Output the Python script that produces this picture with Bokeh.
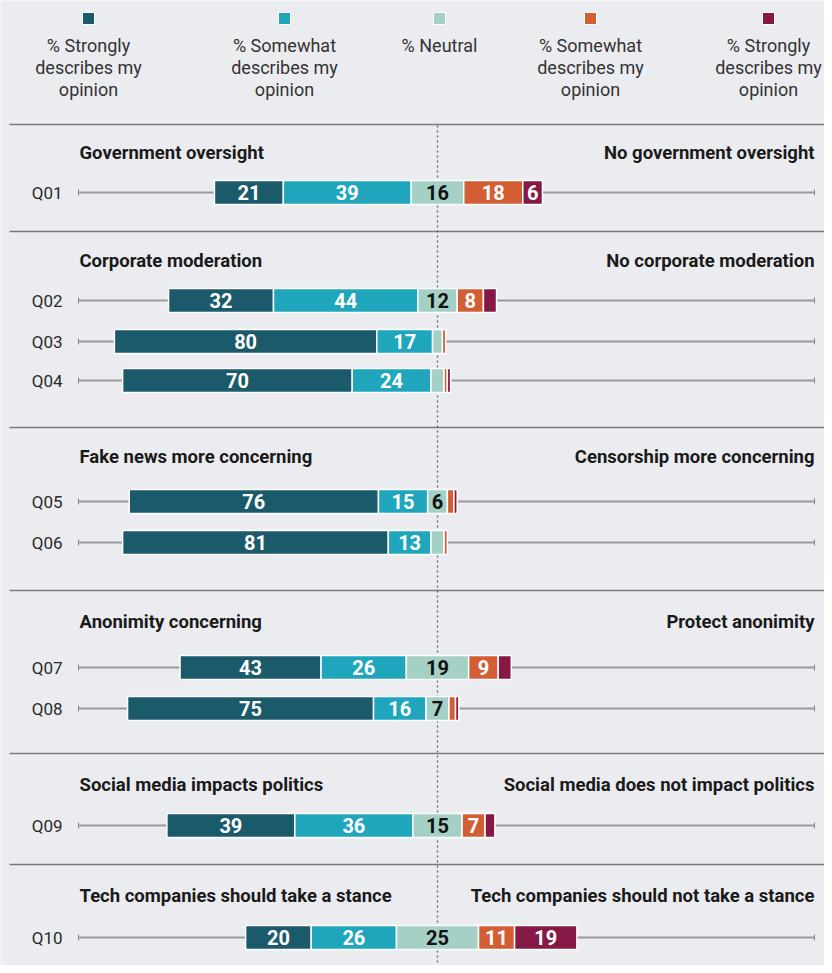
from bokeh.plotting import figure
from bokeh.models import Range1d, ColumnDataSource
from bokeh.core.properties import value
from bokeh.embed import file_html
from bokeh.resources import INLINE

# ---------------- data ----------------
questions = ["Q01", "Q02", "Q03", "Q04", "Q05", "Q06", "Q07", "Q08", "Q09", "Q10"]
strongly_left = [21, 32, 80, 70, 76, 81, 43, 75, 39, 20]
somewhat_left = [39, 44, 17, 24, 15, 13, 26, 16, 36, 26]
neutral = [16, 12, 3, 4, 6, 4, 19, 7, 15, 25]
somewhat_right = [18, 8, 1, 1, 2, 1, 9, 2, 7, 11]
strongly_right = [6, 4, 0, 1, 1, 0, 4, 1, 3, 19]

legend_labels = [
    "% Strongly\ndescribes my\nopinion",
    "% Somewhat\ndescribes my\nopinion",
    "% Neutral",
    "% Somewhat\ndescribes my\nopinion",
    "% Strongly\ndescribes my\nopinion",
]

group_left = ["Government oversight", "Corporate moderation", "Fake news more concerning",
              "Anonimity concerning", "Social media impacts politics",
              "Tech companies should take a stance"]
group_right = ["No government oversight", "No corporate moderation", "Censorship more concerning",
               "Protect anonimity", "Social media does not impact politics",
               "Tech companies should not take a stance"]

# ---------------- layout / style ----------------
W, H = 824, 965
PX = 3.28            # pixels per percentage point
CX = 437             # pixel position of the centre line
def px2x(px):
    return (px - CX) / PX

row_y = [192, 300, 341, 380, 501, 542, 667, 708, 825, 937]
header_y = [152, 260, 456, 621, 784, 895]
sep_y = [124, 231, 427, 590, 753, 864]
legend_px = [88, 284, 439, 590, 768]

colors = ["#1a5a6a", "#1fa6bd", "#a4d0c6", "#d35e34", "#861846"]
label_colors = ["white", "white", "#111111", "white", "white"]
BG = "#ebecf0"
FONT = value("Roboto")

p = figure(width=W, height=H, output_backend="svg", toolbar_location=None,
           x_range=Range1d(px2x(0), px2x(W)), y_range=Range1d(H, 0),
           x_axis_type=None, y_axis_type=None, min_border=0,
           background_fill_color=BG, border_fill_color=BG, outline_line_color=None)
p.grid.visible = False

# separators
p.segment(x0=[px2x(9)] * len(sep_y), x1=[px2x(W)] * len(sep_y), y0=sep_y, y1=sep_y,
          line_color="#7a7a7a", line_width=1.5)

# centre dotted line
p.segment(x0=[0], x1=[0], y0=[sep_y[0] + 1], y1=[H], line_color="#666666",
          line_width=1.3, line_dash="2 3")

# whiskers
wl, wr = px2x(78), px2x(814)
n = len(questions)
p.segment(x0=[wl] * n, x1=[wr] * n, y0=row_y, y1=row_y, line_color="#9a9a9a", line_width=2)
p.segment(x0=[wl] * n, x1=[wl] * n, y0=[y - 3 for y in row_y], y1=[y + 3 for y in row_y],
          line_color="#888888", line_width=1)
p.segment(x0=[wr] * n, x1=[wr] * n, y0=[y - 3 for y in row_y], y1=[y + 3 for y in row_y],
          line_color="#888888", line_width=1)

# bars
series = [strongly_left, somewhat_left, neutral, somewhat_right, strongly_right]
bar = dict(y=[], left=[], right=[], color=[], mid=[], label=[], lcolor=[])
for i in range(n):
    start = -(strongly_left[i] + somewhat_left[i] + neutral[i] / 2)
    for k, s in enumerate(series):
        v = s[i]
        if v <= 0:
            continue
        bar["y"].append(row_y[i])
        bar["left"].append(start)
        bar["right"].append(start + v)
        bar["color"].append(colors[k])
        bar["mid"].append(start + v / 2)
        bar["label"].append(str(v) if v >= 5 else "")
        bar["lcolor"].append(label_colors[k])
        start += v
src = ColumnDataSource(bar)
p.hbar(y="y", left="left", right="right", height=24, fill_color="color",
       line_color="white", line_width=1.5, source=src)
p.text(x="mid", y="y", text="label", text_color="lcolor", text_align="center",
       text_baseline="middle", text_font=FONT, text_font_size="20px",
       text_font_style="bold", source=src)

# question labels
p.text(x=[px2x(62)] * n, y=row_y, text=questions, text_align="right",
       text_baseline="middle", text_font=FONT, text_font_size="17px", text_color="#2a2a2a")

# group headers
g = len(group_left)
p.text(x=[px2x(79)] * g, y=header_y, text=group_left, text_align="left",
       text_baseline="middle", text_font=FONT, text_font_size="18.5px",
       text_font_style="bold", text_color="#1a1a1a")
p.text(x=[px2x(814)] * g, y=header_y, text=group_right, text_align="right",
       text_baseline="middle", text_font=FONT, text_font_size="18.5px",
       text_font_style="bold", text_color="#1a1a1a")

# legend
p.rect(x=[px2x(v) for v in legend_px], y=[18] * 5, width=12 / PX, height=12,
       fill_color=colors, line_color="white", line_width=1)
lx, ly, lt = [], [], []
for k, lab in enumerate(legend_labels):
    for j, line in enumerate(lab.split("\n")):
        lx.append(px2x(legend_px[k]))
        ly.append(45 + 22 * j)
        lt.append(line)
p.text(x=lx, y=ly, text=lt, text_align="center", text_baseline="middle",
       text_font=FONT, text_font_size="18px", text_color="#333333")

open("out.html", "w").write(file_html(p, INLINE))
